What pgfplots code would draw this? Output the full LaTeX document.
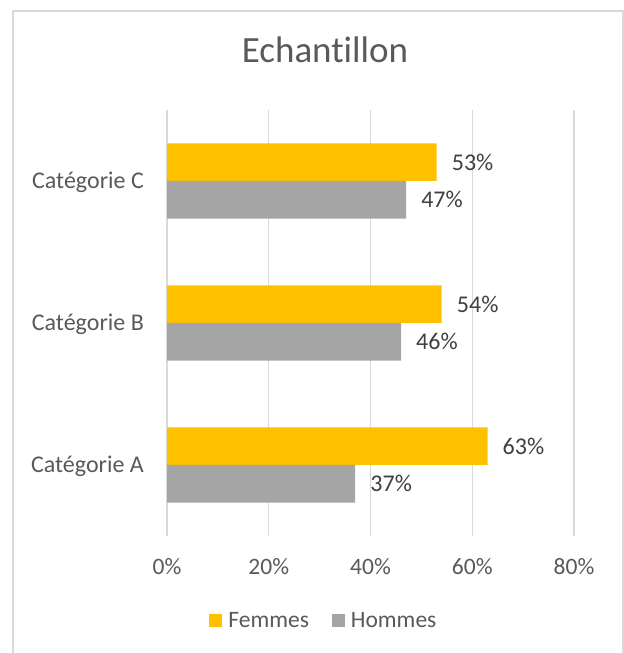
\documentclass[border=0pt]{standalone}
\usepackage{fontspec}
\setmainfont{Carlito}[Ligatures=NoCommon]
\usepackage{pgfplots}
\pgfplotsset{compat=1.18}
\definecolor{femmes}{HTML}{FFC000}
\definecolor{hommes}{HTML}{A5A5A5}
\definecolor{gridc}{HTML}{D9D9D9}
\definecolor{txt}{HTML}{595959}
\definecolor{lab}{HTML}{404040}
\begin{document}
\begin{tikzpicture}
\useasboundingbox (0bp,0bp) rectangle (624bp,653bp);
\draw[gridc, line width=1.3bp] (13bp,0bp) -- (13bp,642bp) -- (623bp,642bp) -- (623bp,0bp);
\node[anchor=base, text=txt, font=\fontsize{37bp}{44bp}\selectfont, inner sep=0] at (325bp,590.7bp) {Echantillon};
\begin{axis}[
  at={(167bp,117bp)}, anchor=south west,
  scale only axis, width=407bp, height=426bp,
  xbar, bar width=37.7bp,
  xmin=0, xmax=80, ymin=-0.5, ymax=2.5,
  xtick={0,20,40,60,80},
  xticklabels={0\%,20\%,40\%,60\%,80\%},
  ytick={0,1,2},
  yticklabels={Catégorie A,Catégorie B,Catégorie C},
  major tick length=0pt,
  axis line style={draw=none},
  xmajorgrids, major grid style={gridc, line width=1.4bp},
  /pgf/number format/assume math mode=true,
  x tick label style={anchor=base, inner sep=0pt, yshift=-38.3bp, text=txt, font=\fontsize{23.5bp}{28bp}\selectfont},
  y tick label style={anchor=base east, inner sep=0pt, xshift=-23bp, yshift=-7.6bp, text=txt, font=\fontsize{24bp}{28bp}\selectfont},
  point meta=x,
  nodes near coords={\pgfmathprintnumber{\pgfplotspointmeta}\%},
  every node near coord/.append style={anchor=west, inner sep=0pt, xshift=15bp, text=lab, font=\fontsize{24bp}{28bp}\selectfont},
  legend columns=2,
  legend image code/.code={\fill[#1] (0bp,-6.5bp) rectangle (13bp,6.5bp);},
  legend style={at={(0.383,-0.1995)}, anchor=center, draw=none, fill=none,
    font=\fontsize{23.5bp}{28bp}\selectfont, text=txt,
    nodes={inner sep=0pt},
    /tikz/every odd column/.append style={column sep=6bp},
    /tikz/every even column/.append style={column sep=23bp}},
]
\addplot[draw=none, fill=femmes, bar shift=18.85bp] coordinates {(63,0) (54,1) (53,2)};
\addlegendentry{Femmes}
\addplot[draw=none, fill=hommes, bar shift=-18.85bp] coordinates {(37,0) (46,1) (47,2)};
\addlegendentry{Hommes}
\end{axis}
\end{tikzpicture}
\end{document}
